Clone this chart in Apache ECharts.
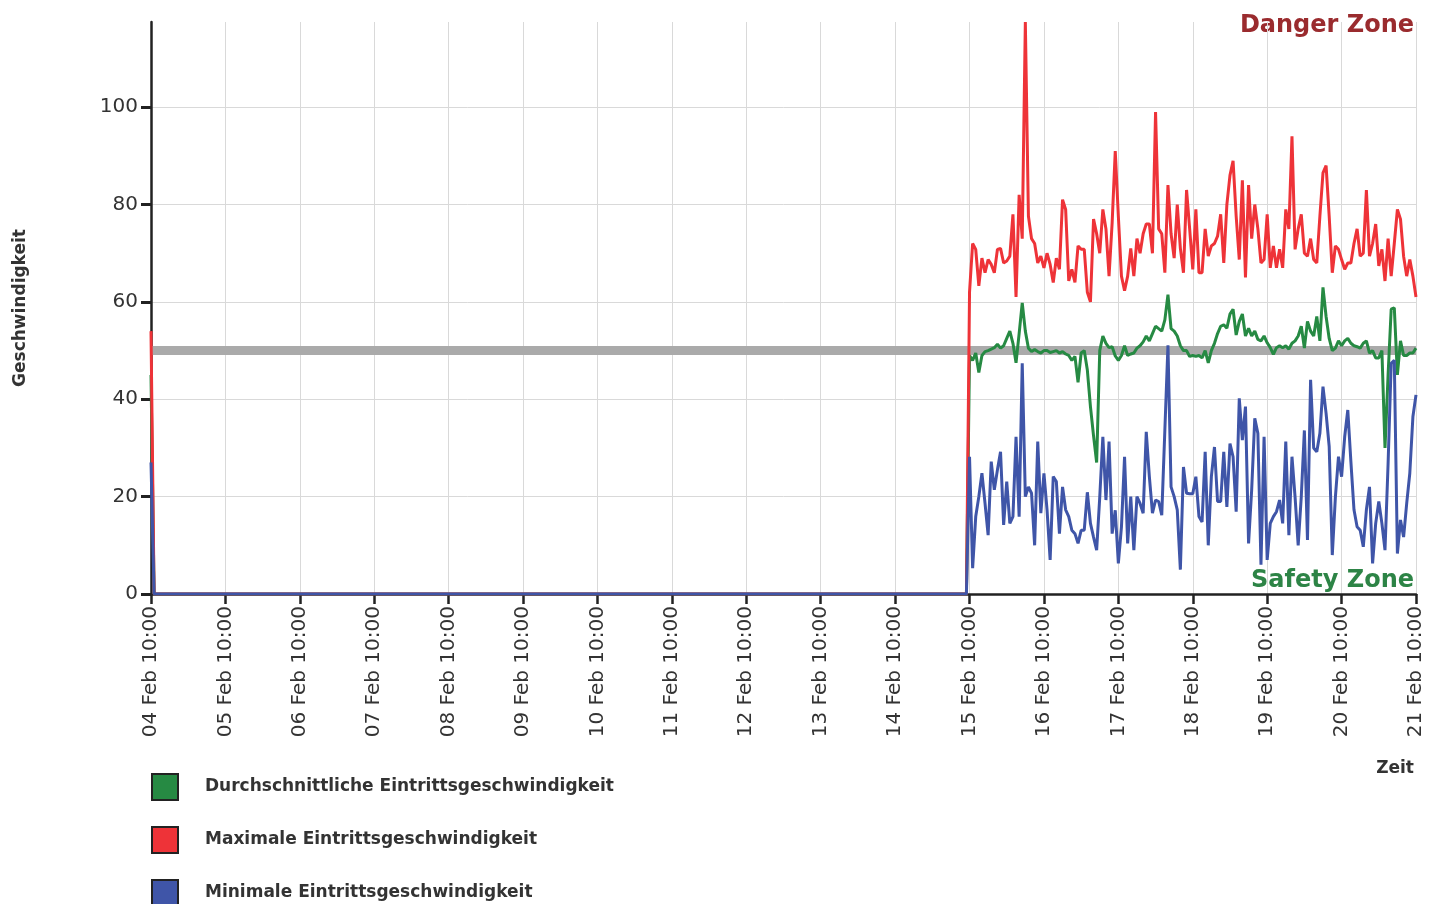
<!DOCTYPE html>
<html>
<head>
<meta charset="utf-8">
<script src="https://cdn.jsdelivr.net/npm/echarts@6/dist/echarts.min.js"></script>
<style>
html,body{margin:0;padding:0;background:#fff;}
#chart{width:1445px;height:904px;}
</style>
</head>
<body>
<div id="chart"></div>
<script>
// ---- data ----
const xTickLabels = ['04 Feb 10:00','05 Feb 10:00','06 Feb 10:00','07 Feb 10:00','08 Feb 10:00','09 Feb 10:00','10 Feb 10:00','11 Feb 10:00','12 Feb 10:00','13 Feb 10:00','14 Feb 10:00','15 Feb 10:00','16 Feb 10:00','17 Feb 10:00','18 Feb 10:00','19 Feb 10:00','20 Feb 10:00','21 Feb 10:00'];
const seriesNames = ['Durchschnittliche Eintrittsgeschwindigkeit','Maximale Eintrittsgeschwindigkeit','Minimale Eintrittsgeschwindigkeit'];
// hourly readings; hour 0 = 04 Feb 10:00
const firstReading = {avg: 45, max: 54, min: 27};   // 04 Feb 10:00
const idleHours = [1, 263];                            // readings of 0 from 04 Feb 11:00 to 15 Feb 09:00
const activeStartHour = 264;                           // 15 Feb 10:00
const avgValues = [
49,48,49.5,45.5,49,49.8,50,50.3,50.6,51.3,
50.5,51,52.5,54,51.5,47.5,53.5,59.8,54,50.5,
49.8,50.2,49.8,49.5,50,50,49.6,49.8,50,49.5,
49.8,49.3,49,48,48.8,43.5,49.5,50,46,38.5,
32.5,27,50,53,51.5,50.6,50.8,48.9,48,49,
51,49,49.3,49.5,50.5,51,51.8,53,52,53.5,
55,54.5,54,56.3,61.5,54.5,54,53,51,50,
50,48.8,49,48.8,49,48.5,50,47.5,50,51.5,
53.5,55,55.3,54.6,57.5,58.5,53.2,56,57.5,53,
54.6,53,54,52.3,52,53,51.6,50.6,49.2,50.6,
51,50.6,51,50.3,51.5,52,53,55,50.5,56,
54,53,57,52,63,57,52.5,50,50.5,52,
51,52,52.5,51.5,51,50.8,50.5,51.5,52,49.5,
50,48.5,48.5,50,30,45,58.5,58.8,45,52,
49,49,49.5,49.5,50.5];
const maxValues = [
62,72,70.8,63.3,69,66,68.7,67.7,66,70.8,
71,68,68.4,69.4,78,61,82,73,117.5,77.6,
73,72,68,69.4,67,70,67.7,64,69,66.7,
81,79,64.3,66.7,64,71.5,70.8,70.8,62,60,
77,74,70,79,75,65.3,76.3,91,77.6,65.3,
62.3,65.3,71,65.3,73,70,74,76,76,70,
99,75,74,66,84,74,69,80,71,66,
83,75,66.7,79,66,66,75,69.4,71.5,72,
73.5,78,68,80,86,89,77.6,68.7,85,65,
84,73,80,75,68,68.7,78,67,71.5,67,
70.8,67,79,75,94,70.8,75,78,70,69.4,
73,68.7,68,77.6,86.5,88,77.6,66,71.5,70.8,
68.7,66.7,68,68,72,75,69.4,70,83,69.4,
72,76,67.4,70.8,64.3,73,65.3,72,79,77,
69.4,65.3,68.7,65.3,61];
const minValues = [
28.2,5.3,15.9,20,24.8,18.6,12.1,27.2,21.4,25.5,
29.2,14.2,23.1,14.5,15.9,32.3,15.9,47.4,20,22,
20.7,10,31.3,16.6,24.8,17.3,7,24.1,23.1,12.4,
22,17.3,15.9,13.1,12.4,10.4,13.1,13.1,20.9,14.5,
11.7,9,19.9,32.3,19.3,31.3,12.4,17.2,6.3,13.8,
28.2,10.4,20,9,20,18.6,16.6,33.3,24.1,16.6,
19.3,19,16.2,33.7,51.1,22,20,17.3,5,26.1,
20.7,20.6,20.6,24.1,15.9,14.8,29.2,10,24.1,30.2,
19,19,29.2,17.9,30.9,28.2,16.9,40.2,31.6,38.5,
10.4,21.4,36.1,33,6,32.3,7,14.5,15.9,16.9,
19.3,14.5,31.3,12.1,28.2,19.9,10,20,33.6,11.1,
44,30,29.2,33,42.6,37.1,30.3,8,19.9,28.2,
24.1,32.3,37.8,27.2,17.3,13.8,13.1,9.7,17.3,22,
6.3,14.5,19,14.5,9,26.8,47.4,48,8.3,15.2,
11.7,18.6,24.8,36.4,40.9];
const thresholdValue = 50;
const yTickValues = [0,20,40,60,80,100];

// ---- build series (hour offset, value) ----
function build(first, active) {
  const d = [[0, first], [idleHours[0], 0], [idleHours[1], 0]];
  active.forEach((v, i) => d.push([activeStartHour + i, v]));
  return d;
}
const lastHour = (xTickLabels.length - 1) * 24;
const FONT = 'DejaVu Sans';
const colors = {avg: '#268a43', max: '#ee3338', min: '#3f55a8'};

const chart = echarts.init(document.getElementById('chart'), null, {renderer: 'canvas'});
chart.setOption({
  animation: false,
  backgroundColor: '#ffffff',
  grid: {left: 151, right: 29, top: 22, bottom: 310},
  xAxis: {
    type: 'value', min: 0, max: lastHour, interval: 24,
    axisLine: {show: true, lineStyle: {color: '#222', width: 2.5}},
    axisTick: {show: true, length: 10, lineStyle: {color: '#222', width: 2.5}},
    axisLabel: {rotate: 90, fontFamily: FONT, fontSize: 20, color: '#333', margin: 12,
      formatter: v => xTickLabels[Math.round(v / 24)] || ''},
    splitLine: {show: true, lineStyle: {color: '#d9d9d9', width: 1}}
  },
  yAxis: {
    type: 'value', min: 0, max: 117.5, interval: 20,
    name: 'Geschwindigkeit', nameLocation: 'middle', nameGap: 122, nameRotate: 90,
    nameTextStyle: {fontFamily: FONT, fontWeight: 'bold', fontSize: 17, color: '#333'},
    axisLine: {show: true, lineStyle: {color: '#222', width: 2.5}},
    axisTick: {show: true, length: 10, lineStyle: {color: '#222', width: 3}, customValues: yTickValues},
    axisLabel: {fontFamily: FONT, fontSize: 20, color: '#333', margin: 13, customValues: yTickValues},
    splitLine: {show: true, lineStyle: {color: '#d9d9d9', width: 1}}
  },
  legend: {
    orient: 'vertical', left: 151, top: 773, height: 300, padding: 0,
    itemWidth: 26, itemHeight: 26, itemGap: 25,
    icon: 'rect', data: seriesNames,
    itemStyle: {borderColor: '#222', borderWidth: 2},
    textStyle: {fontFamily: FONT, fontWeight: 'bold', fontSize: 17, color: '#333', padding: [0, 0, 0, 22]}
  },
  graphic: [
    {type: 'text', right: 31, top: 14, style: {text: 'Danger Zone', font: 'bold 24px "DejaVu Sans"', fill: '#9a2b2e'}},
    {type: 'text', right: 31, top: 569, style: {text: 'Safety Zone', font: 'bold 24px "DejaVu Sans"', fill: '#2d8446'}},
    {type: 'text', right: 31, top: 760, style: {text: 'Zeit', font: 'bold 17px "DejaVu Sans"', fill: '#333'}}
  ],
  series: [
    {name: 'threshold', type: 'line', data: [[0, thresholdValue], [lastHour, thresholdValue]], symbol: 'none',
      lineStyle: {color: '#aaaaaa', width: 9}, z: 1, silent: true},
    {name: seriesNames[0], type: 'line', data: build(firstReading.avg, avgValues), symbol: 'none',
      lineStyle: {color: colors.avg, width: 3}, itemStyle: {color: colors.avg}, z: 2},
    {name: seriesNames[1], type: 'line', data: build(firstReading.max, maxValues), symbol: 'none',
      lineStyle: {color: colors.max, width: 3}, itemStyle: {color: colors.max}, z: 3},
    {name: seriesNames[2], type: 'line', data: build(firstReading.min, minValues), symbol: 'none',
      lineStyle: {color: colors.min, width: 3}, itemStyle: {color: colors.min}, z: 4}
  ]
});
</script>
</body>
</html>
